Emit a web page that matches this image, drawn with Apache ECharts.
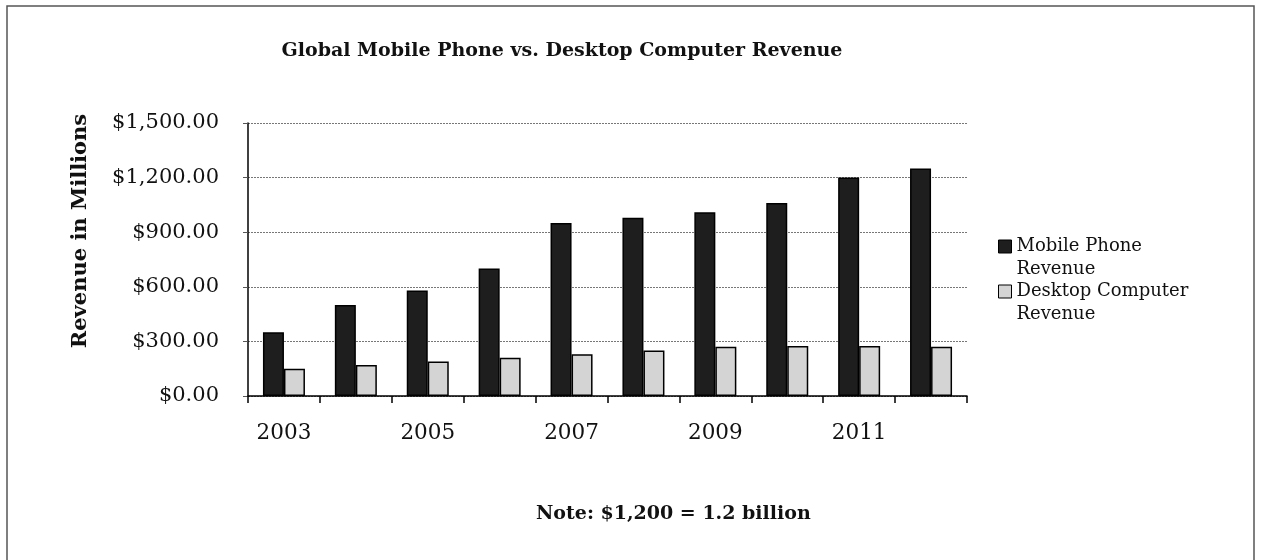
<!DOCTYPE html>
<html>
<head>
<meta charset="utf-8">
<script src="https://cdn.jsdelivr.net/npm/echarts@6/dist/echarts.min.js"></script>
<style>
html,body{margin:0;padding:0;background:#fff;}
#chart{width:1261px;height:560px;}
</style>
</head>
<body>
<div id="chart"></div>
<script>
var categories = ['2003','2004','2005','2006','2007','2008','2009','2010','2011','2012'];
var mobileRevenue = [350, 500, 580, 700, 950, 980, 1010, 1060, 1200, 1250];
var desktopRevenue = [150, 170, 190, 210, 230, 250, 270, 275, 275, 270];
var seriesNames = ['Mobile Phone Revenue', 'Desktop Computer Revenue'];
var legendLines = [['Mobile Phone', 'Revenue'], ['Desktop Computer', 'Revenue']];
var chartTitle = 'Global Mobile Phone vs. Desktop Computer Revenue';
var yAxisTitle = 'Revenue in Millions';
var noteText = 'Note: $1,200 = 1.2 billion';

var FONT = '"DejaVu Serif", serif';
var chart = echarts.init(document.getElementById('chart'), null, {renderer: 'canvas'});

function money(v) {
  var s = Math.round(v).toString().replace(/\B(?=(\d{3})+(?!\d))/g, ',');
  return '$' + s + '.00';
}

function legendFor(idx, top, fill) {
  return {
    orient: 'vertical', left: 993, top: top, icon: 'rect', itemWidth: 13, itemHeight: 13,
    data: [{ name: seriesNames[idx], itemStyle: { color: fill, borderColor: '#000', borderWidth: 1 } }],
    formatter: function () { return ' \n' + legendLines[idx][0] + '\n' + legendLines[idx][1]; },
    textStyle: { fontFamily: FONT, fontSize: 18, color: '#111', lineHeight: 23 },
    itemGap: 0, selectedMode: false
  };
}

var option = {
  animation: false,
  backgroundColor: '#ffffff',
  title: [
    { text: chartTitle, left: 557, top: 37, textAlign: 'center',
      textStyle: { fontFamily: FONT, fontWeight: 'bold', fontSize: 19, color: '#111' } },
    { text: noteText, left: 531, top: 500, textAlign: 'left',
      textStyle: { fontFamily: FONT, fontWeight: 'bold', fontSize: 19, color: '#111' } }
  ],
  legend: [
    legendFor(0, 207, '#1e1e1e'),
    legendFor(1, 252, '#d4d4d4')
  ],
  grid: { left: 248, right: 294, top: 123, bottom: 164, containLabel: false },
  xAxis: {
    type: 'category',
    data: categories,
    boundaryGap: true,
    axisLine: { lineStyle: { color: '#000', width: 1.5 } },
    axisTick: { show: true, alignWithLabel: false, interval: 0, length: 7, lineStyle: { color: '#000', width: 1.5 } },
    axisLabel: { interval: 1, margin: 26, fontFamily: FONT, fontSize: 21.5, color: '#111' },
    splitLine: { show: false }
  },
  yAxis: {
    type: 'value',
    min: 0, max: 1500, interval: 300,
    axisLine: { show: true, lineStyle: { color: '#000', width: 1.5 } },
    axisTick: { show: true, length: 5, lineStyle: { color: '#555' } },
    axisLabel: { formatter: money, margin: 29, fontFamily: FONT, fontSize: 21, color: '#111' },
    splitLine: { show: true, lineStyle: { color: '#777', width: 1, type: [2, 1] } }
  },
  graphic: [
    { type: 'rect', shape: { x: 7, y: 6, width: 1247, height: 600 }, style: { fill: null, stroke: '#555', lineWidth: 1.5 }, silent: true },
    { type: 'text', x: 81, y: 231, rotation: Math.PI / 2, style: { text: yAxisTitle, font: 'bold 21px ' + FONT, fill: '#111', align: 'center', verticalAlign: 'middle' } }
  ],
  series: [
    { name: seriesNames[0], type: 'bar', data: mobileRevenue, barWidth: 21, barGap: '0%',
      itemStyle: { color: '#1e1e1e', borderColor: '#000', borderWidth: 1.5 } },
    { name: seriesNames[1], type: 'bar', data: desktopRevenue, barWidth: 21, barGap: '0%',
      itemStyle: { color: '#d4d4d4', borderColor: '#000', borderWidth: 1.5 } }
  ]
};
chart.setOption(option);
</script>
</body>
</html>
